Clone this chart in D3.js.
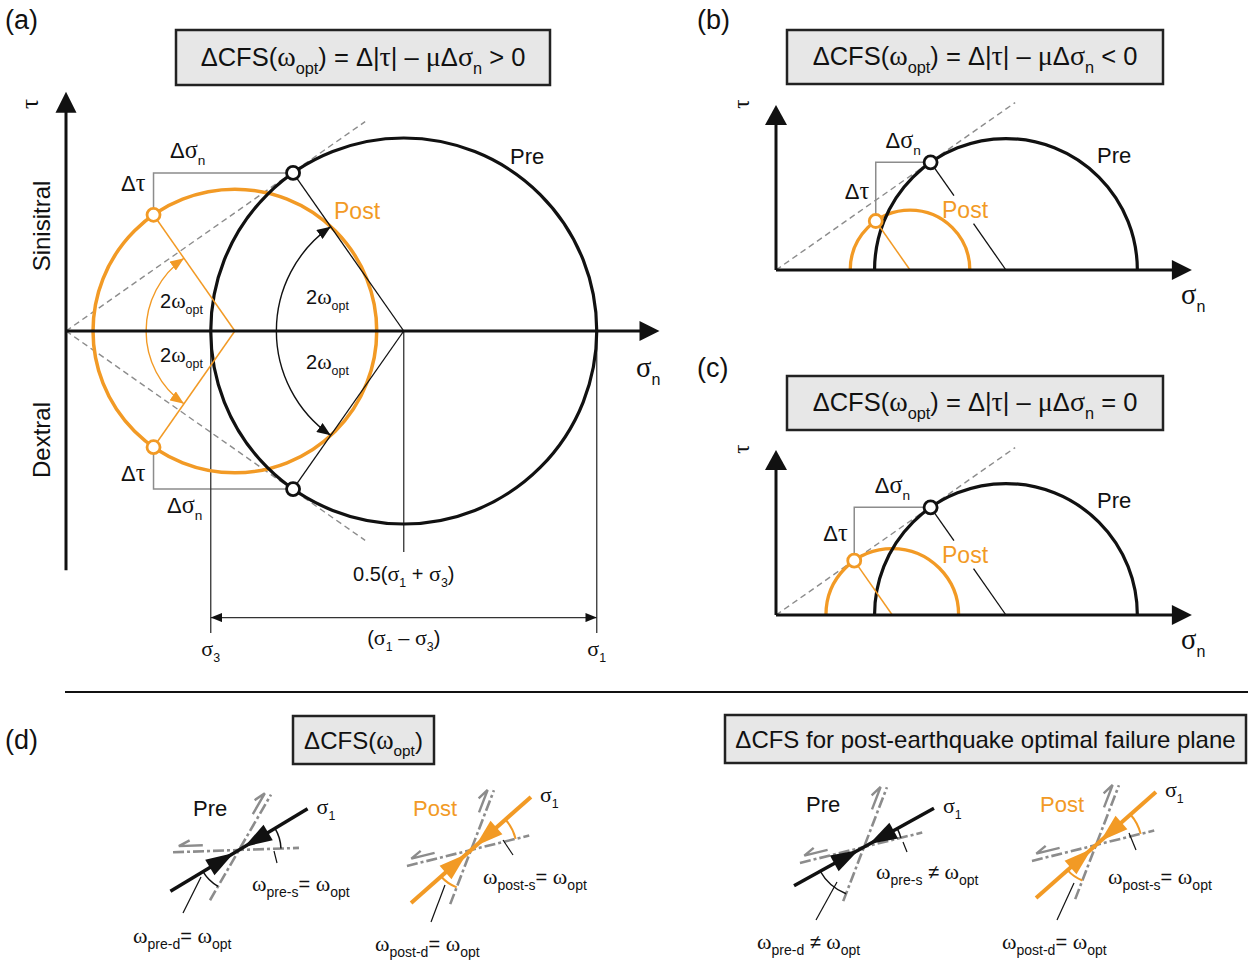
<!DOCTYPE html>
<html>
<head>
<meta charset="utf-8">
<script src="https://cdn.jsdelivr.net/npm/d3@7"></script>
<style>
  body { margin: 0; background: #fff; }
  svg { display: block; font-family: "Liberation Sans", Arial, sans-serif; }
</style>
</head>
<body>
<svg id="fig" width="1248" height="963"></svg>
<script>
(function() {

  // Data: stress states (arbitrary stress units) and friction
  var mu = 0.7;                        // slope of the failure envelope
  var preStress = [1.5, 5.5];          // [sigma3, sigma1] before the earthquake
  var postStressA = [0.28, 3.22];      // after, panel (a)
  var postStressB = [1.13, 2.95];      // after, panel (b)
  var postStressC = [0.76, 2.78];      // after, panel (c)

  var panelTitles = [
    "ΔCFS(ω_{opt}) = Δ|τ| – μΔσ_{n} > 0",
    "ΔCFS(ω_{opt}) = Δ|τ| – μΔσ_{n} < 0",
    "ΔCFS(ω_{opt}) = Δ|τ| – μΔσ_{n} = 0",
    "ΔCFS(ω_{opt})",
    "ΔCFS for post-earthquake optimal failure plane"
  ];

  // Data: fault sketches of panel (d)
  var faultNames = ["Pre", "Post", "Pre", "Post"];
  var faultIsPost = [false, true, false, true];
  var sigma1Angles = [31, 41.5, 29, 41.5];              // degrees from horizontal
  var planeAngles = [[2, 60], [14, 69], [14, 69], [14, 69]];
  var omegaS = ["ω_{pre-s}= ω_{opt}", "ω_{post-s}= ω_{opt}", "ω_{pre-s} ≠ ω_{opt}", "ω_{post-s}= ω_{opt}"];
  var omegaD = ["ω_{pre-d}= ω_{opt}", "ω_{post-d}= ω_{opt}", "ω_{pre-d} ≠ ω_{opt}", "ω_{post-d}= ω_{opt}"];

  // Design
  var ink = "#111";
  var orange = "#f29a25";
  var grey = "#8c8c8c";
  var serif = "'Liberation Serif','DejaVu Serif',serif";

  var svg = d3.select("#fig");
  var defs = svg.append("defs");

  function addMarker(id, color, w, h) {
    defs.append("marker")
        .attr("id", id)
        .attr("viewBox", "0 0 10 8")
        .attr("refX", 10).attr("refY", 4)
        .attr("markerWidth", w).attr("markerHeight", h)
        .attr("markerUnits", "userSpaceOnUse")
        .attr("orient", "auto-start-reverse")
        .append("path")
        .attr("d", "M0,0L10,4L0,8Z")
        .attr("fill", color);
  }
  addMarker("arrBlack", ink, 14, 11);
  addMarker("arrOrange", orange, 14, 11);
  addMarker("arrThin", ink, 13, 9);

  // text with greek letters in serif and _{sub} subscripts
  function rich(g, x, y, str, size, opt) {
    opt = opt || {};
    var subK = opt.sub || 0.62;
    var t = g.append("text")
        .attr("x", x).attr("y", y)
        .attr("font-size", size)
        .attr("fill", opt.color || ink)
        .attr("text-anchor", opt.anchor || "start")
        .style("white-space", "pre");
    if (opt.rotate) t.attr("transform", "rotate(" + opt.rotate + "," + x + "," + y + ")");
    var shift = 0;
    str.split(/(_\{[^}]*\})/).forEach(function(part) {
      if (!part) return;
      var sub = part.indexOf("_{") === 0;
      var s = sub ? part.slice(2, -1) : part;
      s.match(/[α-ω]+|[^α-ω]+/g).forEach(function(run) {
        var ts = t.append("tspan").text(run);
        var greek = /[α-ω]/.test(run);
        if (greek) ts.attr("font-family", serif);
        if (sub) ts.attr("font-size", size * subK);
        else if (greek) ts.attr("font-size", size * 1.1);
        var want = sub ? size * 0.3 : 0;
        if (want !== shift) { ts.attr("dy", want - shift); shift = want; }
      });
    });
    return t;
  }

  function mohr(stress) {
    var c = (stress[0] + stress[1]) / 2;
    var r = (stress[1] - stress[0]) / 2;
    var ang = Math.PI / 2 + Math.atan(mu);
    return { c: c, r: r, s: c + r * Math.cos(ang), t: r * Math.sin(ang), ang: ang };
  }

  function line(g, x1, y1, x2, y2, color, w) {
    return g.append("line")
        .attr("x1", x1).attr("y1", y1).attr("x2", x2).attr("y2", y2)
        .attr("stroke", color).attr("stroke-width", w);
  }

  function tri(g, pts, color) {
    g.append("path").attr("d", "M" + pts.join("L") + "Z").attr("fill", color);
  }

  function titleBox(x0, y0, x1, y1, str, baseline, size) {
    svg.append("rect")
        .attr("x", x0).attr("y", y0)
        .attr("width", x1 - x0).attr("height", y1 - y0)
        .attr("fill", "#e7e7e7")
        .attr("stroke", "#222")
        .attr("stroke-width", 2.5);
    rich(svg, (x0 + x1) / 2, baseline, str, size, { anchor: "middle", sub: 0.64 });
  }

  function marker(g, x, y, color) {
    g.append("circle")
        .attr("cx", x).attr("cy", y).attr("r", 6.5)
        .attr("fill", "#fff")
        .attr("stroke", color)
        .attr("stroke-width", 2.8);
  }

  // panel letters, titles, separator
  rich(svg, 5, 29, "(a)", 27);
  rich(svg, 697, 29, "(b)", 27);
  rich(svg, 697, 377, "(c)", 27);
  rich(svg, 5, 749, "(d)", 27);
  titleBox(176, 30, 550, 85, panelTitles[0], 66, 25.5);
  titleBox(787, 30, 1163, 84, panelTitles[1], 65, 25.5);
  titleBox(787, 376, 1163, 430, panelTitles[2], 411, 25.5);
  titleBox(293, 716, 434, 764, panelTitles[3], 749, 24);
  titleBox(725, 715, 1246, 763, panelTitles[4], 748, 24);
  line(svg, 65, 692, 1248, 692, ink, 2);

  // ---------- panel (a): full Mohr circles ----------
  var kA = 96.5;
  var xA = d3.scaleLinear().domain([0, 1]).range([66, 66 + kA]);
  var yA = d3.scaleLinear().domain([0, 1]).range([331, 331 - kA]);
  var pre = mohr(preStress);
  var postA = mohr(postStressA);
  var gA = svg.append("g");

  // failure envelopes
  [1, -1].forEach(function(sg) {
    line(gA, xA(0), yA(0), xA(3.1), yA(sg * mu * 3.1), grey, 1.4)
        .attr("stroke-dasharray", "6,4");
  });

  // change in stress (step lines)
  [1, -1].forEach(function(sg) {
    gA.append("path")
        .attr("d", "M" + xA(postA.s) + "," + yA(sg * postA.t) +
                   "V" + yA(sg * pre.t) + "H" + xA(pre.s))
        .attr("fill", "none").attr("stroke", grey).attr("stroke-width", 1.5);
  });

  // construction lines under the axis
  line(gA, xA(preStress[0]), yA(0), xA(preStress[0]), yA(-3.13), "#333", 1.3);
  line(gA, xA(preStress[1]), yA(0), xA(preStress[1]), yA(-3.13), "#333", 1.3);
  line(gA, xA(pre.c), yA(0), xA(pre.c), yA(-2.29), "#333", 1.3);
  line(gA, xA(preStress[0]), yA(-2.97), xA(preStress[1]), yA(-2.97), "#333", 1.3)
      .attr("marker-start", "url(#arrThin)")
      .attr("marker-end", "url(#arrThin)");

  // circles
  gA.append("circle")
      .attr("cx", xA(postA.c)).attr("cy", yA(0)).attr("r", xA(postA.r) - xA(0))
      .attr("fill", "none").attr("stroke", orange).attr("stroke-width", 3.5);
  gA.append("circle")
      .attr("cx", xA(pre.c)).attr("cy", yA(0)).attr("r", xA(pre.r) - xA(0))
      .attr("fill", "none").attr("stroke", ink).attr("stroke-width", 3.2);

  // radii to the optimal planes
  [1, -1].forEach(function(sg) {
    line(gA, xA(pre.c), yA(0), xA(pre.s), yA(sg * pre.t), ink, 1.3);
    line(gA, xA(postA.c), yA(0), xA(postA.s), yA(sg * postA.t), orange, 1.5);
  });

  // 2ω arcs
  function omegaArc(g, cx, cy, r, ang, upper, color, mk) {
    var p = d3.path();
    p.moveTo(cx - r, cy);
    if (upper) p.arc(cx, cy, r, -Math.PI, -ang, false);
    else p.arc(cx, cy, r, Math.PI, ang, true);
    g.append("path")
        .attr("d", p.toString())
        .attr("fill", "none").attr("stroke", color).attr("stroke-width", 1.4)
        .attr("marker-end", "url(#" + mk + ")");
  }
  [true, false].forEach(function(up) {
    omegaArc(gA, xA(pre.c), yA(0), xA(1.32) - xA(0), pre.ang, up, ink, "arrBlack");
    omegaArc(gA, xA(postA.c), yA(0), xA(0.92) - xA(0), postA.ang, up, orange, "arrOrange");
  });

  // axes
  line(gA, xA(0), yA(-2.48), xA(0), yA(2.48) + 18, ink, 3);
  tri(gA, [[xA(0), yA(2.48)], [xA(0) - 10.5, yA(2.48) + 21], [xA(0) + 10.5, yA(2.48) + 21]], ink);
  line(gA, xA(0), yA(0), xA(6.15) - 18, yA(0), ink, 3);
  tri(gA, [[xA(6.15), yA(0)], [xA(6.15) - 20, yA(0) - 10], [xA(6.15) - 20, yA(0) + 10]], ink);

  // optimal-plane points
  [1, -1].forEach(function(sg) {
    marker(gA, xA(postA.s), yA(sg * postA.t), orange);
    marker(gA, xA(pre.s), yA(sg * pre.t), ink);
  });

  // labels (a)
  rich(gA, 38, 104, "τ", 23, { rotate: -90, anchor: "middle" });
  rich(gA, 50, 226, "Sinisitral", 24, { rotate: -90, anchor: "middle" });
  rich(gA, 50, 440, "Dextral", 24, { rotate: -90, anchor: "middle" });
  rich(gA, 170, 158, "Δσ_{n}", 22);
  rich(gA, 121, 191, "Δτ", 22);
  rich(gA, 121, 481, "Δτ", 22);
  rich(gA, 167, 513, "Δσ_{n}", 22);
  rich(gA, 510, 164, "Pre", 22);
  rich(gA, 334, 219, "Post", 23, { color: orange });
  rich(gA, 306, 304, "2ω_{opt}", 20);
  rich(gA, 306, 369, "2ω_{opt}", 20);
  rich(gA, 160, 308, "2ω_{opt}", 20);
  rich(gA, 160, 362, "2ω_{opt}", 20);
  rich(gA, 636, 377, "σ_{n}", 26);
  rich(gA, xA(pre.c), 581, "0.5(σ_{1} + σ_{3})", 20, { anchor: "middle" });
  rich(gA, xA(pre.c), 645, "(σ_{1} – σ_{3})", 20, { anchor: "middle" });
  rich(gA, xA(preStress[0]), 656, "σ_{3}", 20, { anchor: "middle" });
  rich(gA, xA(preStress[1]), 656, "σ_{1}", 20, { anchor: "middle" });

  // ---------- panels (b), (c): upper half circles ----------
  function drawHalf(oy, postStress) {
    var k = 65.7;
    var x = d3.scaleLinear().domain([0, 1]).range([776, 776 + k]);
    var y = d3.scaleLinear().domain([0, 1]).range([oy, oy - k]);
    var g = svg.append("g");
    var post = mohr(postStress);

    line(g, x(0), y(0), x(3.64), y(mu * 3.64), grey, 1.4).attr("stroke-dasharray", "6,4");
    g.append("path")
        .attr("d", "M" + x(post.s) + "," + y(post.t) + "V" + y(pre.t) + "H" + x(pre.s))
        .attr("fill", "none").attr("stroke", grey).attr("stroke-width", 1.5);

    function half(m, color, w) {
      var p = d3.path();
      var r = x(m.r) - x(0);
      p.moveTo(x(m.c) - r, y(0));
      p.arc(x(m.c), y(0), r, Math.PI, 2 * Math.PI, false);
      g.append("path").attr("d", p.toString())
          .attr("fill", "none").attr("stroke", color).attr("stroke-width", w);
    }
    half(post, orange, 3.3);
    half(pre, ink, 3.2);

    // radius of pre circle, broken around the "Post" label
    var px = x(pre.s), py = y(pre.t), qx = x(pre.c), qy = y(0);
    [[0, 0.31], [0.57, 1]].forEach(function(f) {
      line(g, px + (qx - px) * f[0], py + (qy - py) * f[0],
              px + (qx - px) * f[1], py + (qy - py) * f[1], ink, 1.3);
    });
    line(g, x(post.s), y(post.t), x(post.c), y(0), orange, 1.5);

    line(g, x(0), y(0), x(0), y(2.51) + 17, ink, 3);
    tri(g, [[x(0), y(2.51)], [x(0) - 11, y(2.51) + 20], [x(0) + 11, y(2.51) + 20]], ink);
    line(g, x(0), y(0), x(6.33) - 17, y(0), ink, 3);
    tri(g, [[x(6.33), y(0)], [x(6.33) - 20, y(0) - 10], [x(6.33) - 20, y(0) + 10]], ink);

    marker(g, x(post.s), y(post.t), orange);
    marker(g, x(pre.s), y(pre.t), ink);

    rich(g, 749, oy - 166, "τ", 21, { rotate: -90, anchor: "middle" });
    rich(g, (x(post.s) + x(pre.s)) / 2, y(pre.t) - 14, "Δσ_{n}", 22, { anchor: "middle" });
    rich(g, x(post.s) - 31, (y(post.t) + y(pre.t)) / 2 + 7, "Δτ", 22);
    rich(g, 1097, oy - 107, "Pre", 22);
    rich(g, 942, oy - 52, "Post", 23, { color: orange });
    rich(g, 1181, oy + 34, "σ_{n}", 26);
  }
  drawHalf(270, postStressB);
  drawHalf(615, postStressC);

  // ---------- panel (d): fault sketches ----------
  var faultCentres = [[239, 850], [471, 850], [864, 847], [1096, 845]];
  var arcRadii = [[42, 42], [46, 40], [38, 50], [46, 38]];
  var leadS = [[35, 1, 38, 13], [32, -10, 42, 5], [39, -5, 43, 5], [33, -12, 40, 5]];
  var leadD = [[-38, 27, -56, 63], [-26, 35, -40, 72], [-27, 35, -48, 73], [-22, 38, -39, 75]];
  var nameAt = [[193, 816], [413, 816], [806, 812], [1040, 812]];
  var labelS = [[252, 891], [483, 884], [876, 879], [1108, 884]];
  var labelD = [[133, 943], [375, 951], [757, 949], [1002, 949]];
  var rad = Math.PI / 180;

  faultNames.forEach(function(name, i) {
    var cx = faultCentres[i][0], cy = faultCentres[i][1];
    var col = faultIsPost[i] ? orange : ink;
    var a1 = sigma1Angles[i];
    var g = svg.append("g");

    function pt(deg, r) {
      return [cx + r * Math.cos(deg * rad), cy - r * Math.sin(deg * rad)];
    }

    // candidate failure planes
    planeAngles[i].forEach(function(pa, j) {
      var ext = j === 0 ? [-66, 60] : [-58, 64];
      var p0 = pt(pa, ext[0]), p1 = pt(pa, ext[1]);
      line(g, p0[0], p0[1], p1[0], p1[1], grey, 2.6).attr("stroke-dasharray", "11,3,3,3");
    });

    // half arrows showing sinistral slip
    planeAngles[i].forEach(function(pa, j) {
      var r0 = j === 0 ? -36 : 38, r1 = j === 0 ? -60 : 62;
      var n = [Math.cos((pa + 90) * rad) * 6, -Math.sin((pa + 90) * rad) * 6];
      var a = pt(pa, r0), b = pt(pa, r1);
      var u = [(b[0] - a[0]) / Math.abs(r1 - r0), (b[1] - a[1]) / Math.abs(r1 - r0)];
      var tip = [b[0] + n[0], b[1] + n[1]];
      var barb = [tip[0] - 11 * u[0] + n[0] * 0.9, tip[1] - 11 * u[1] + n[1] * 0.9];
      g.append("path")
          .attr("d", "M" + (a[0] + n[0]) + "," + (a[1] + n[1]) + "L" + tip + "L" + barb)
          .attr("fill", "none").attr("stroke", grey).attr("stroke-width", 2.4)
          .attr("stroke-linejoin", "miter");
    });

    // sigma1 axis with converging arrowheads
    var s0 = pt(a1, -80), s1 = pt(a1, 80);
    line(g, s0[0], s0[1], s1[0], s1[1], col, faultIsPost[i] ? 4 : 3.5);
    [1, -1].forEach(function(sg) {
      var tip = pt(a1, sg * 6), base = pt(a1, sg * 34);
      var nx = Math.cos((a1 + 90) * rad) * 9, ny = -Math.sin((a1 + 90) * rad) * 9;
      tri(g, [tip, [base[0] + nx, base[1] + ny], [base[0] - nx, base[1] - ny]], col);
    });

    // angle arcs between sigma1 and each plane
    function angleArc(d0, d1, r) {
      var lo = Math.min(d0, d1), hi = Math.max(d0, d1);
      var p = d3.path();
      var st = pt(hi, r);
      p.moveTo(st[0], st[1]);
      p.arc(cx, cy, r, -hi * rad, -lo * rad, false);
      g.append("path").attr("d", p.toString())
          .attr("fill", "none").attr("stroke", col)
          .attr("stroke-width", faultIsPost[i] ? 2 : 1.5);
    }
    angleArc(planeAngles[i][0], a1, arcRadii[i][0]);
    angleArc(a1 + 180, planeAngles[i][1] + 180, arcRadii[i][1]);

    // leaders to the labels
    [leadS[i], leadD[i]].forEach(function(l) {
      line(g, cx + l[0], cy + l[1], cx + l[2], cy + l[3], ink, 1.2);
    });

    rich(g, nameAt[i][0], nameAt[i][1], name, 22, { color: faultIsPost[i] ? orange : ink });
    rich(g, s1[0] + 9, s1[1] + 5, "σ_{1}", 20);
    rich(g, labelS[i][0], labelS[i][1], omegaS[i], 20, { sub: 0.7 });
    rich(g, labelD[i][0], labelD[i][1], omegaD[i], 20, { sub: 0.7 });
  });

})();
</script>
</body>
</html>
